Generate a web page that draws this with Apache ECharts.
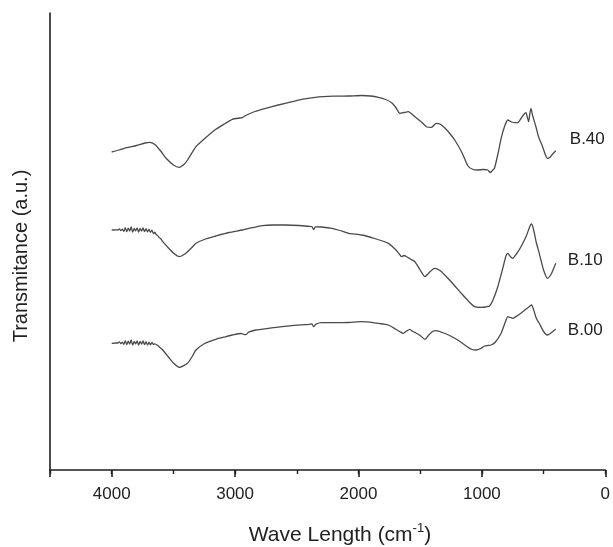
<!DOCTYPE html>
<html><head><meta charset="utf-8">
<script src="https://cdn.jsdelivr.net/npm/echarts@6/dist/echarts.min.js"></script>
<style>html,body{margin:0;padding:0;background:#fff}#c{width:613px;height:547px}</style>
</head><body><div id="c"></div>
<script>
// Tick values on the wavenumber axis
const xTicks = [4000, 3000, 2000, 1000, 0];
const seriesNames = ['B.40', 'B.10', 'B.00'];
const xTitle = 'Wave Length (cm';
const xTitleSup = '-1';
const yTitle = 'Transmitance (a.u.)';

// B.40 (wavenumber, transmittance a.u.)
const b40Wn = [4000,3940,3880,3800,3730,3694,3650,3600,3559,3500,3452,3410,3385,3317,3250,3156,3080,3022,2960,2941,2914,2840,2752,2650,2538,2450,2349,2200,2081,1973,1900,1839,1780,1731,1700,1664,1630,1597,1543,1490,1449,1409,1369,1340,1300,1260,1220,1160,1113,1070,1032,990,952,933,910,898,870,844,815,790,760,730,710,680,660,643,630,621,612,602,590,562,540,508,485,468,450,430,401];
const b40T  = [318,320,322.3,324.5,327,327.7,325.5,318.5,311.7,305,302.7,306,310,323.3,331,340.7,346.5,350.7,352,352.3,354.5,358.5,361.7,365,368.3,370.8,372.7,373.8,374,374.5,374,372.7,370.5,367.3,363,356.7,357.5,358.3,353.3,348,343.3,342.7,346.7,346,342,336.5,330,317,304,300.5,300,300.5,300,297.5,300,301.7,316,331.7,344,350,348,347.3,347.3,352,355.5,357.3,352,348.3,356,361.7,355,343.3,333,323.3,315,311.7,312.5,315.5,319.3];

// B.10
const b10Wn = [4000,3962,3950,3938,3926,3914,3902,3890,3878,3866,3854,3842,3830,3818,3806,3794,3782,3770,3758,3746,3734,3722,3710,3698,3686,3674,3662,3650,3640,3628,3616,3604,3586,3540,3500,3452,3420,3385,3350,3317,3240,3156,3050,2941,2860,2780,2700,2591,2480,2400,2377,2363,2350,2300,2215,2150,2081,1973,1870,1758,1700,1670,1651,1630,1610,1580,1543,1500,1462,1430,1400,1381,1340,1301,1240,1167,1110,1059,1006,970,938,910,871,830,805,790,770,750,720,683,640,610,597,580,560,535,500,468,440,420,401];
const b10T  = [240,240.2,240,241.2,239.3,240.9,238.6,242.4,238.2,241.8,239,243,237.8,241.5,239.2,242.2,237.9,241.6,238.8,242,238.4,241.3,238,240.8,237.6,239.8,236.3,237.8,235.5,234.6,232.5,231.4,228.3,222,217,213.3,215,218.3,222.5,226.7,231,234,237.5,240,242.3,244.3,245,245,244.5,243.6,243.3,240.5,243.2,243,241.7,239.5,236.7,235,231.5,226.7,220.5,216,213.3,214.5,213.3,211,208.3,200,193.3,197,200.5,201.7,199.5,195,187,176.7,169,163.3,162.7,163,164,170,183.3,202,214,216.7,213.5,211.7,216,223.3,234,244,246,240,228,216.7,200,191.7,195.5,201,206.7];

// B.00
const b00Wn = [4000,3962,3950,3938,3926,3914,3902,3890,3878,3866,3854,3842,3830,3818,3806,3794,3782,3770,3758,3746,3734,3722,3710,3698,3686,3674,3662,3650,3630,3610,3586,3540,3500,3452,3420,3385,3350,3317,3250,3156,3080,3022,2950,2930,2914,2890,2833,2720,2618,2500,2400,2377,2363,2345,2298,2200,2081,1973,1870,1800,1758,1700,1660,1637,1610,1583,1560,1538,1500,1462,1430,1400,1369,1320,1270,1220,1160,1113,1080,1046,1010,978,950,925,890,844,810,790,770,750,710,669,630,610,597,580,560,535,500,468,440,420,401];
const b00T  = [126.7,127,127,128.2,126.3,127.9,125.6,129.4,125.2,128.8,126,130,124.8,128.5,126.2,129.2,124.9,128.6,125.8,129,125.4,128.3,125,127.8,125.2,127.6,125.5,126.2,124.8,122.6,120,113,107,102.7,104.2,106.7,113,120,126.3,130.7,133.2,135,136.5,135.7,135.3,137.8,140,141.8,143.3,144.8,145.7,146,143.3,145.8,147.3,147.3,147.5,148.3,147.2,146,145,141,138,136.7,139,140.7,138.5,137.3,134.5,130.7,135,138.5,139.3,137.5,135,131.7,127,122.7,120.5,120,121.5,124,124.5,125,128,136.7,148,153.3,152.5,151.7,154.5,158.3,162,164,165,160,152,146.7,138.5,135,137,139,140.7];

const allWn = [b40Wn, b10Wn, b00Wn];
const allT = [b40T, b10T, b00T];
// label offsets (pixels) relative to each curve's last point
const labelDx = [14, 12, 12];
const labelDy = [-11, -3, 1];

const FONT = '"Liberation Sans", Arial, Helvetica, sans-serif';
const chart = echarts.init(document.getElementById('c'), null, {renderer: 'canvas'});

const series = seriesNames.map((name, i) => ({
  name: name,
  type: 'line',
  xAxisIndex: 0,
  yAxisIndex: 0,
  showSymbol: false,
  symbol: 'none',
  smooth: 0.2,
  lineStyle: {color: '#4a4a4a', width: 1.3},
  data: allWn[i].map((w, k) => [w, allT[i][k]]),
  animation: false
}));

chart.setOption({
  animation: false,
  backgroundColor: '#fff',
  grid: {left: 50, right: 5, top: 13, bottom: 77},
  xAxis: [{
    type: 'value', min: 0, max: 4500, interval: 1000, inverse: true, position: 'bottom',
    axisLine: {show: true, onZero: false, lineStyle: {color: '#1e1e1e', width: 1.6}},
    axisTick: {show: true, inside: false, length: 7, lineStyle: {color: '#1e1e1e', width: 1.6}},
    axisLabel: {show: true, margin: 16, fontSize: 17, color: '#222', fontFamily: FONT,
      formatter: v => (xTicks.indexOf(v) >= 0 ? String(v) : '')},
    splitLine: {show: false}
  }, {
    type: 'value', min: 0, max: 4500, interval: 500, inverse: true, position: 'bottom',
    axisLine: {show: false, onZero: false},
    axisTick: {show: true, inside: false, length: 4, lineStyle: {color: '#1e1e1e', width: 1.4}},
    axisLabel: {show: false},
    splitLine: {show: false}
  }],
  yAxis: {
    type: 'value', min: 0, max: 457,
    axisLine: {show: true, onZero: false, lineStyle: {color: '#1e1e1e', width: 1.6}},
    axisTick: {show: false},
    axisLabel: {show: false},
    splitLine: {show: false}
  },
  series: series
});

const graphics = [];
seriesNames.forEach((name, i) => {
  const n = allWn[i].length - 1;
  const p = chart.convertToPixel({xAxisIndex: 0, yAxisIndex: 0}, [allWn[i][n], allT[i][n]]);
  graphics.push({
    type: 'text', x: p[0] + labelDx[i], y: p[1] + labelDy[i],
    style: {text: name, fontSize: 17, fontFamily: FONT, fill: '#222', textAlign: 'left', textVerticalAlign: 'middle'}
  });
});
graphics.push({
  type: 'text', x: 21, y: 256, rotation: Math.PI / 2,
  style: {text: yTitle, fontSize: 20, fontFamily: FONT, fill: '#222', textAlign: 'center', textVerticalAlign: 'middle'}
});
graphics.push({
  type: 'text', x: 340, y: 535,
  style: {
    text: '{a|' + xTitle + '}{s|' + xTitleSup + '}{a|)}',
    textAlign: 'center', textVerticalAlign: 'middle',
    rich: {
      a: {fontSize: 21, fontFamily: FONT, fill: '#222', lineHeight: 26},
      s: {fontSize: 13, fontFamily: FONT, fill: '#222', verticalAlign: 'top', lineHeight: 14}
    }
  }
});
chart.setOption({graphic: graphics});
</script>
</body></html>
